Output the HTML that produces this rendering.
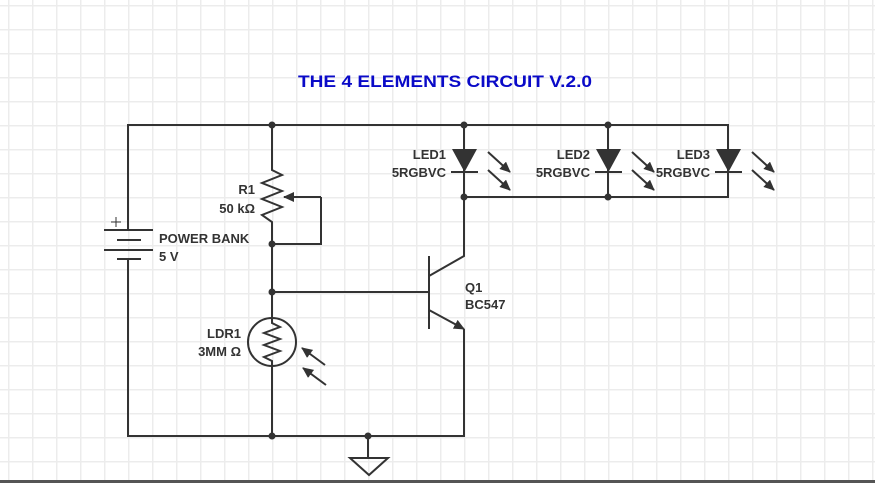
<!DOCTYPE html>
<html><head><meta charset="utf-8"><style>
html,body{margin:0;padding:0;background:#fff}
svg{display:block}
text{font-family:"Liberation Sans",Arial,sans-serif;font-weight:bold;font-size:13px;fill:#333}
</style></head><body>
<svg width="875" height="483" viewBox="0 0 875 483" xmlns="http://www.w3.org/2000/svg">
<defs>
<pattern id="g" x="8" y="5" width="24" height="24" patternUnits="userSpaceOnUse">
<path d="M0.5 0V24M0 0.5H24" stroke="#ececec" stroke-width="2" fill="none"/>
</pattern>
<marker id="ah" markerWidth="11" markerHeight="10" refX="10" refY="5" orient="auto" markerUnits="userSpaceOnUse"><path d="M0 0L11 5L0 10Z" fill="#333"/></marker>
</defs>
<rect width="875" height="483" fill="url(#g)"/>
<rect x="0" y="480" width="875" height="3" fill="#555"/>
<text x="298" y="87" style="font-size:17px;fill:#0a0ac8" textLength="294" lengthAdjust="spacingAndGlyphs">THE 4 ELEMENTS CIRCUIT V.2.0</text>
<g stroke="#333" stroke-width="2" fill="none">
<path d="M128 230V125H728V197H464"/>
<path d="M128 259V436H464V329"/>
<path d="M104 230H153M117 240H141M104 250H153M117 259H141"/>
<path d="M111 222H121M116 217V227" stroke-width="1"/>
<path d="M272 125V170L282 175L262 183L282 191L262 199L282 207L262 215L272 222V292V318"/>
<path d="M321 197H284" marker-end="url(#ah)"/>
<path d="M321 197V244H272"/>
<circle cx="272" cy="342" r="24"/>
<path d="M272 318V323L280 327L264 333L280 339L264 345L280 351L264 357L272 361V366"/>
<path d="M272 366V436"/>
<path d="M325 365L302 348" marker-end="url(#ah)"/>
<path d="M326 385L303 368" marker-end="url(#ah)"/>
<path d="M272 292H429"/>
<path d="M429 256V329"/>
<path d="M429 276L464 256V197"/>
<path d="M429 310L464 329" marker-end="url(#ah)"/>
<path d="M368 436V458M350 458H388L369 475Z"/>
<path d="M451 172H478M595 172H622M715 172H742"/>
<path d="M608 125V197M464 125V197"/>
<path d="M488 152L510 172" marker-end="url(#ah)"/><path d="M488 170L510 190" marker-end="url(#ah)"/>
<path d="M632 152L654 172" marker-end="url(#ah)"/><path d="M632 170L654 190" marker-end="url(#ah)"/>
<path d="M752 152L774 172" marker-end="url(#ah)"/><path d="M752 170L774 190" marker-end="url(#ah)"/>
</g>
<g fill="#333">
<path d="M452 149H477L464.5 172Z"/>
<path d="M596 149H621L608.5 172Z"/>
<path d="M716 149H741L728.5 172Z"/>
<circle cx="272" cy="125" r="3.5"/><circle cx="464" cy="125" r="3.5"/><circle cx="608" cy="125" r="3.5"/>
<circle cx="464" cy="197" r="3.5"/><circle cx="608" cy="197" r="3.5"/>
<circle cx="272" cy="244" r="3.5"/><circle cx="272" cy="292" r="3.5"/>
<circle cx="272" cy="436" r="3.5"/><circle cx="368" cy="436" r="3.5"/>
</g>
<text x="255" y="194" text-anchor="end">R1</text>
<text x="255" y="213" text-anchor="end">50 kΩ</text>
<text x="159" y="243">POWER BANK</text>
<text x="159" y="261">5 V</text>
<text x="241" y="338" text-anchor="end">LDR1</text>
<text x="241" y="356" text-anchor="end">3MM Ω</text>
<text x="465" y="292">Q1</text>
<text x="465" y="309">BC547</text>
<text x="446" y="159" text-anchor="end">LED1</text>
<text x="446" y="177" text-anchor="end">5RGBVC</text>
<text x="590" y="159" text-anchor="end">LED2</text>
<text x="590" y="177" text-anchor="end">5RGBVC</text>
<text x="710" y="159" text-anchor="end">LED3</text>
<text x="710" y="177" text-anchor="end">5RGBVC</text>
</svg>
</body></html>
